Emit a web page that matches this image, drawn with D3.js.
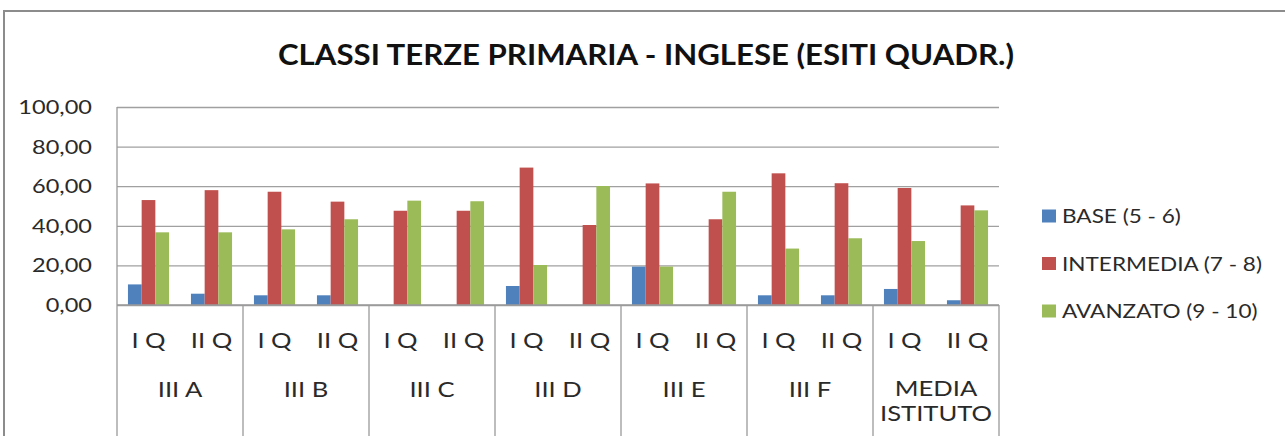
<!DOCTYPE html>
<html>
<head>
<meta charset="utf-8">
<script src="https://cdn.jsdelivr.net/npm/d3@7"></script>
<style>
  html, body { margin: 0; padding: 0; background: #fff; }
  svg { display: block; }
  text { font-family: Lato, "Open Sans", sans-serif; fill: #2a2a2a; }
</style>
</head>
<body>
<svg id="chart" width="1285" height="436"></svg>
<script>
// ---- data ----
const title = "CLASSI TERZE PRIMARIA - INGLESE (ESITI QUADR.)";
const groups = ["III A", "III B", "III C", "III D", "III E", "III F", "MEDIA ISTITUTO"];
const subcats = ["I Q", "II Q"];
const seriesNames = ["BASE (5 - 6)", "INTERMEDIA (7 - 8)", "AVANZATO (9 - 10)"];
const seriesColors = ["#4F81BD", "#C0504D", "#9BBB59"];
const baseValues =       [10.4, 5.7, 4.9, 4.9, 0, 0, 9.6, 0, 19.4, 0, 4.9, 4.9, 8.1, 2.4];
const intermediaValues = [53.0, 58.0, 57.2, 52.2, 47.6, 47.6, 69.4, 40.4, 61.4, 43.3, 66.5, 61.5, 59.1, 50.3];
const avanzatoValues =   [36.7, 36.7, 38.2, 43.3, 52.7, 52.4, 20.2, 60.1, 19.4, 57.2, 28.5, 33.7, 32.3, 47.8];
const yTicks = [0, 20, 40, 60, 80, 100];

const seriesValues = [baseValues, intermediaValues, avanzatoValues];

// ---- layout ----
const svg = d3.select("#chart");
const plotL = 117, plotR = 999, plotT = 107, plotB = 305;
const SX = 1.22; // horizontal text stretch

function txt(sel, x, y, s, opts) {
  return sel.append("text")
    .attr("transform", `translate(${x},${y}) scale(${opts.sx || SX},1)`)
    .attr("text-anchor", opts.anchor || "middle")
    .attr("font-size", opts.size)
    .attr("font-weight", opts.weight || "normal")
    .text(s);
}

// outer border
svg.append("rect").attr("x", 4).attr("y", 11).attr("width", 1400).attr("height", 500)
  .attr("fill", "none").attr("stroke", "#8c8c8c").attr("stroke-width", 2);

// title
svg.append("text")
  .attr("x", 646).attr("y", 65)
  .attr("text-anchor", "middle")
  .attr("font-size", 28).attr("font-weight", "bold")
  .style("fill", "#111")
  .attr("textLength", 736).attr("lengthAdjust", "spacingAndGlyphs")
  .text(title);

// scales
const x0 = d3.scaleBand().domain(groups).range([plotL, plotR]).padding(0);
const x1 = d3.scaleBand().domain(subcats).range([0, x0.bandwidth()]).padding(0);
const x2 = d3.scaleBand().domain(seriesNames).range([0, x1.bandwidth()]).paddingInner(0).paddingOuter(0.8);
const y = d3.scaleLinear().domain([0, 100]).range([plotB, plotT]);

// gridlines
const grid = svg.append("g").attr("transform", `translate(${plotL},0)`)
  .call(d3.axisLeft(y).tickValues(yTicks).tickSize(-(plotR - plotL)).tickFormat(""));
grid.select(".domain").remove();
grid.selectAll(".tick line").attr("stroke", "#a0a0a0").attr("stroke-width", 1.3);

// y labels
const fmt = v => d3.format(".2f")(v).replace(".", ",");
yTicks.forEach(v => {
  txt(svg, 92, y(v) + 7, fmt(v), { size: 19, anchor: "end", sx: 1.24 });
});

// bars
const data = [];
groups.forEach((g, gi) => subcats.forEach((s, si) => {
  const idx = gi * subcats.length + si;
  seriesNames.forEach((n, ni) => data.push({ g, s, n, ni, v: seriesValues[ni][idx] }));
}));
svg.append("g").selectAll("rect").data(data).join("rect")
  .attr("x", d => x0(d.g) + x1(d.s) + x2(d.n))
  .attr("width", x2.bandwidth())
  .attr("y", d => y(d.v))
  .attr("height", d => y(0) - y(d.v))
  .attr("fill", d => seriesColors[d.ni]);

// axis lines
const axisColor = "#9a9a9a";
svg.append("line").attr("x1", plotL).attr("x2", plotR).attr("y1", plotB).attr("y2", plotB)
  .attr("stroke", axisColor).attr("stroke-width", 1.3);
svg.append("line").attr("x1", plotL).attr("x2", plotL).attr("y1", plotT).attr("y2", 436)
  .attr("stroke", axisColor).attr("stroke-width", 1.3);
const bounds = groups.map(g => x0(g) + x0.bandwidth());
svg.append("g").selectAll("line").data(bounds).join("line")
  .attr("x1", d => d).attr("x2", d => d).attr("y1", plotB).attr("y2", 436)
  .attr("stroke", axisColor).attr("stroke-width", 1.3);

// x labels
groups.forEach(g => {
  subcats.forEach(s => {
    txt(svg, x0(g) + x1(s) + x1.bandwidth() / 2, 347.5, s, { size: 21 });
  });
  const parts = g === "MEDIA ISTITUTO" ? ["MEDIA", "ISTITUTO"] : [g];
  const cx = x0(g) + x0.bandwidth() / 2;
  if (parts.length === 1) {
    txt(svg, cx, 397, parts[0], { size: 21 });
  } else {
    txt(svg, cx, 395.5, parts[0], { size: 21 });
    txt(svg, cx, 420.5, parts[1], { size: 21 });
  }
});

// legend
const legendY = [216, 263.5, 311];
seriesNames.forEach((n, i) => {
  svg.append("rect").attr("x", 1042).attr("y", legendY[i] - 6.5).attr("width", 14).attr("height", 13)
    .attr("fill", seriesColors[i]);
  txt(svg, 1062, legendY[i] + 7, n, { size: 18.5, anchor: "start", sx: 1.22 });
});
</script>
</body>
</html>
